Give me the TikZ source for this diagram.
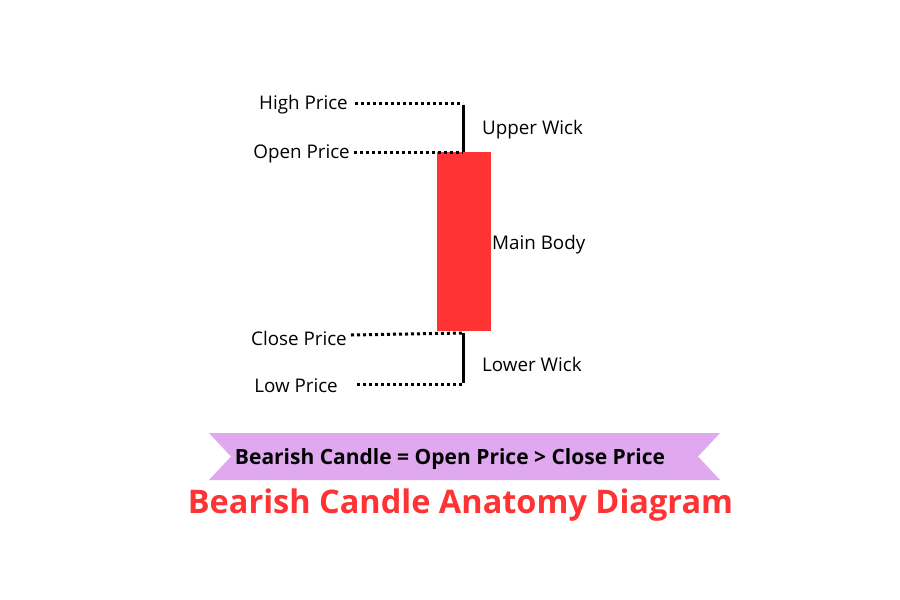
\documentclass[tikz,border=0pt]{standalone}
\usepackage{fontspec}
\setmainfont{Open Sans}
\definecolor{candlered}{HTML}{FF3333}
\definecolor{ribbon}{HTML}{E0A8EE}
\begin{document}
\begin{tikzpicture}[x=1pt,y=-1pt,
  lbl/.style={font=\fontsize{18.8}{22}\selectfont, inner sep=0pt},
  dotline/.style={line width=3pt, dash pattern=on 3pt off 3pt},
  wick/.style={line width=3pt}]
\useasboundingbox[fill=white] (0,0) rectangle (900,600);
% body
\fill[candlered] (437,152) rectangle (491,331);
\coordinate (hiw) at (463,103);
\coordinate (opw) at (463,152);
\coordinate (clw) at (463,333);
\coordinate (low) at (463,384);
\draw[wick] ([yshift=-1.5pt]hiw) -- (opw);
\draw[wick] (clw) -- ([yshift=1.5pt]low);
% labels
\node[lbl, anchor=east] (hp) at (348,105) {High Price};
\node[lbl, anchor=east] (op) at (350,154) {Open Price};
\node[lbl, anchor=east] (cp) at (347,338) {Close Price};
\node[lbl, anchor=east] (lp) at (338,386) {Low Price};
\node[lbl, anchor=west] (uw) at (482,130) {Upper Wick};
\node[lbl, anchor=west] (mb) at (492,245) {Main Body};
\node[lbl, anchor=west] (lw) at (482,364) {Lower Wick};
% dotted
\draw[dotline] (355,103) -- (hiw);
\draw[dotline] (354,152) -- (opw);
\draw[dotline] (351,335) -- (clw);
\draw[dotline] (357,384) -- (low);
% ribbon
\fill[ribbon] (209,433) -- (720,433) -- (698,456.5) -- (720,480) -- (209,480) -- (231,456.5) -- cycle;
\node[font=\fontsize{21}{25}\selectfont\bfseries, inner sep=0pt] (rb) at (450,459) {Bearish Candle = Open Price > Close Price};
\node[font=\fontsize{32.5}{38}\selectfont\bfseries, text=candlered, inner sep=0pt] (title) at (460.5,505) {Bearish Candle Anatomy Diagram};
\end{tikzpicture}
\end{document}
